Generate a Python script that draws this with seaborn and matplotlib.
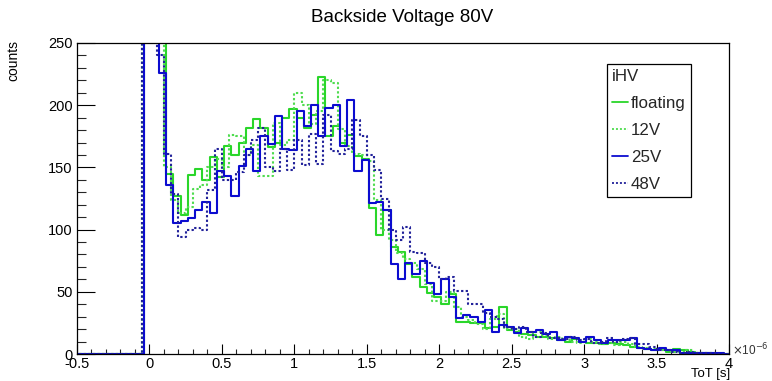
import numpy as np
import pandas as pd
import matplotlib
matplotlib.use("Agg")
import matplotlib.pyplot as plt
from matplotlib.ticker import MultipleLocator
from matplotlib.lines import Line2D
import seaborn as sns

# ---- data (ToT in units of 1e-6 s, counts per 0.05 bin) ----
series_names = ["floating", "12V", "25V", "48V"]
bin_width = 0.05
first_edge_solid = -0.035   # floating, 25V
first_edge_dotted = -0.05   # 12V, 48V

floating = [900, 900, 900, 145, 127, 112, 144, 149, 140, 158,
            142, 167, 160, 170, 182, 189, 182, 166, 170, 190,
            197, 190, 182, 192, 223, 175, 183, 170, 176, 159,
            157, 117, 96, 116, 86, 82, 72, 62, 54, 49,
            46, 40, 48, 26, 26, 25, 25, 21, 22, 38,
            19, 18, 16, 15, 14, 14, 13, 11, 10, 12,
            10, 9, 9, 8, 9, 8, 7, 6, 5, 4,
            3, 4, 2, 4, 3, 2, 1, 1, 0, 0, 0]
v12 = [900, 900, 300, 150, 124, 113, 118, 133, 136, 150,
       157, 150, 176, 175, 160, 168, 143, 143, 186, 168,
       172, 210, 200, 185, 195, 220, 218, 181, 167, 161,
       160, 155, 124, 100, 92, 81, 76, 73, 68, 56,
       43, 43, 50, 38, 30, 27, 24, 20, 28, 32,
       20, 20, 14, 12, 18, 15, 12, 14, 11, 10,
       9, 12, 10, 8, 9, 7, 10, 8, 6, 5,
       4, 3, 3, 2, 2, 3, 1, 1, 1, 0, 0]
v25 = [900, 900, 226, 136, 105, 107, 109, 116, 122, 113,
       147, 143, 127, 151, 165, 147, 175, 169, 191, 165,
       164, 195, 183, 200, 175, 198, 200, 167, 204, 147,
       156, 121, 122, 116, 72, 60, 73, 64, 75, 57,
       48, 60, 46, 29, 31, 30, 26, 35, 18, 23,
       22, 17, 21, 18, 19, 16, 18, 11, 14, 13,
       10, 14, 11, 9, 11, 11, 11, 13, 5, 4,
       3, 5, 3, 3, 1, 1, 1, 1, 1, 1, 0]
v48 = [900, 900, 240, 161, 129, 94, 100, 101, 100, 132,
       165, 140, 140, 146, 160, 172, 182, 150, 147, 165,
       148, 172, 152, 177, 153, 192, 163, 161, 165, 188,
       175, 160, 148, 125, 100, 92, 102, 82, 81, 73,
       70, 60, 62, 51, 51, 40, 40, 33, 30, 28,
       22, 20, 22, 18, 14, 17, 13, 13, 12, 14,
       11, 12, 9, 10, 13, 10, 12, 13, 8, 8,
       6, 3, 3, 2, 1, 2, 1, 1, 1, 0, 0]

xticks = [-0.5, 0, 0.5, 1, 1.5, 2, 2.5, 3, 3.5, 4]
xticklabels = ["-0.5", "0", "0.5", "1", "1.5", "2", "2.5", "3", "3.5", "4"]
yticks = [0, 50, 100, 150, 200, 250]

# ---- style ----
sns.set_theme(style="white")
plt.rcParams['font.family'] = ['Liberation Sans', 'DejaVu Sans']

fig = plt.figure(figsize=(7.72, 3.81), dpi=100)
fig.patch.set_facecolor("white")
W, H = 772, 381
ax = fig.add_axes([77 / W, (H - 354) / H, (729 - 77) / W, (354 - 43) / H])

dot = (0, (1.1, 1.1))
specs = [
    (floating, first_edge_solid, "#2ad62a", "-"),
    (v12, first_edge_dotted, "#4fdc4f", dot),
    (v25, first_edge_solid, "#0c0cd0", "-"),
    (v48, first_edge_dotted, "#22229a", dot),
]
LW = 1.5

for (vals, first_edge, color, ls), name in zip(specs, series_names):
    vals = np.asarray(vals, float)
    n_pad = int(round((first_edge + 0.55) / bin_width))
    start = first_edge - n_pad * bin_width
    counts = np.concatenate([np.zeros(n_pad), vals, [0.0, 0.0]])
    n = len(counts)
    centers = start + bin_width * (np.arange(n) + 0.5)
    df = pd.DataFrame({"tot": centers, "w": counts})
    sns.histplot(data=df, x="tot", weights="w", binwidth=bin_width,
                 binrange=(start, start + n * bin_width), element="step",
                 fill=False, color=color, linestyle=ls, linewidth=LW, ax=ax)

ax.set_xlim(-0.5, 4)
ax.set_ylim(0, 250)
ax.set_xticks(xticks)
ax.set_xticklabels(xticklabels)
ax.set_yticks(yticks)
ax.xaxis.set_minor_locator(MultipleLocator(0.1))
ax.yaxis.set_minor_locator(MultipleLocator(10))
ax.set_xlabel("")
ax.set_ylabel("")
for s in ax.spines.values():
    s.set_color("black")
    s.set_linewidth(0.9)
ax.tick_params(axis="x", which="major", direction="in", length=7.2, width=0.8,
               labelsize=10.5, pad=2, colors="black", bottom=True, top=False)
ax.tick_params(axis="x", which="minor", direction="in", length=3.6, width=0.8,
               bottom=True, top=False)
ax.tick_params(axis="y", which="major", direction="in", length=13, width=0.8,
               labelsize=10.5, pad=3, colors="black", left=True, right=False)
ax.tick_params(axis="y", which="minor", direction="in", length=6.5, width=0.8,
               left=True, right=False)
ax.grid(False)

fig.text(402 / W, 1 - 17 / H, "Backside Voltage 80V", ha="center", va="center",
         fontsize=13.5, color="black")
fig.text(13 / W, 1 - 40 / H, "counts", rotation=90, ha="center", va="top",
         fontsize=10, color="black")
fig.text(730 / W, 1 - 380 / H, "ToT [s]", ha="right", va="bottom",
         fontsize=9.5, color="black")
fig.text(732 / W, 1 - 350 / H, r"$\times$10$^{-6}$", ha="left", va="center",
         fontsize=8.5, color="#333333")

handles = [Line2D([], [], color=c, linestyle=ls, linewidth=1.3) for (_, _, c, ls) in specs]
leg = ax.legend(handles, series_names, title="iHV", loc="upper left",
                bbox_to_anchor=(607 / W, 1 - 64 / H), bbox_transform=fig.transFigure,
                fontsize=12.2, title_fontsize=12.2, frameon=True, fancybox=False,
                framealpha=1, edgecolor="black", handlelength=0.95, handletextpad=0.15,
                borderpad=0.3, labelspacing=0.7, borderaxespad=0, alignment="left")
leg.get_frame().set_linewidth(0.9)

fig.savefig("out.png", dpi=100, facecolor="white")
